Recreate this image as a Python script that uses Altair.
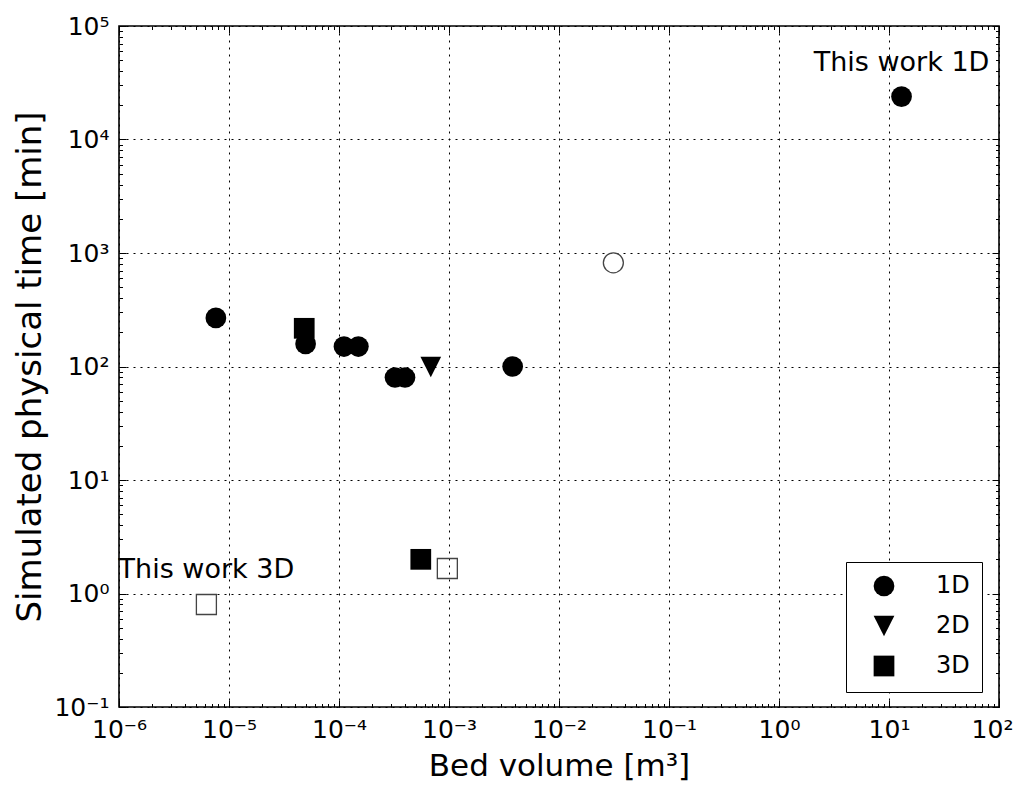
import altair as alt
import pandas as pd

# ---- data ----
# filled markers
filled_dim = ["1D", "1D", "1D", "1D", "1D", "1D", "1D", "1D", "2D", "3D", "3D"]
filled_vol = [7.6e-6, 4.97e-5, 1.11e-4, 1.50e-4, 3.23e-4, 3.98e-4, 3.79e-3, 13.0, 6.83e-4, 4.83e-5, 5.54e-4]
filled_time = [268, 158, 150, 150, 80, 80, 100, 23900, 99, 217, 2.0]

# open markers
open_dim = ["1D", "3D", "3D"]
open_vol = [0.0312, 9.66e-4, 6.23e-6]
open_time = [820, 1.66, 0.8]

# annotations
note_text = ["This work 1D", "This work 3D"]
note_vol = [13.0, 6.23e-6]
note_time = [23900, 0.8]

# axes
x_exponents = [-6, -5, -4, -3, -2, -1, 0, 1, 2]
y_exponents = [-1, 0, 1, 2, 3, 4, 5]
SUP = str.maketrans("-0123456789", "⁻⁰¹²³⁴⁵⁶⁷⁸⁹")
x_tick_labels = ["10" + str(e).translate(SUP) for e in x_exponents]
y_tick_labels = ["10" + str(e).translate(SUP) for e in y_exponents]

legend_order = ["1D", "2D", "3D"]
legend_shapes = ["circle", "M-1,-1L1,-1L0,1Z", "square"]

W, H = 880, 681
FONT = "DejaVu Sans"

df_f = pd.DataFrame({"dim": filled_dim, "vol": filled_vol, "time": filled_time})
df_o = pd.DataFrame({"dim": open_dim, "vol": open_vol, "time": open_time})
df_n = pd.DataFrame({"label": note_text, "vol": note_vol, "time": note_time})

x_major = [10.0 ** e for e in x_exponents]
y_major = [10.0 ** e for e in y_exponents]
x_all = [m * 10.0 ** e for e in x_exponents[:-1] for m in range(1, 10)] + [x_major[-1]]
y_all = [m * 10.0 ** e for e in y_exponents[:-1] for m in range(1, 10)] + [y_major[-1]]


def label_expr(labels, first_exp):
    arr = "[" + ",".join("'" + s + "'" for s in labels) + "]"
    return arr + "[round(log(datum.value)/LN10) - (" + str(first_exp) + ")]"


MAJOR_TEST = "abs(log(datum.value)/LN10 - round(log(datum.value)/LN10)) < 0.0001"
LAST_X_TEST = "datum.value >= " + repr(x_major[-1] * 0.999)

xs = alt.Scale(type="log", domain=[x_major[0], x_major[-1]], nice=False)
ys = alt.Scale(type="log", domain=[y_major[0], y_major[-1]], nice=False)
shape_scale = alt.Scale(domain=legend_order, range=legend_shapes)

main_x = alt.Axis(
    orient="bottom", values=x_major, labelExpr=label_expr(x_tick_labels, x_exponents[0]),
    title="Bed volume [m³]", grid=True, gridColor="black", gridDash=[2, 5], gridWidth=1,
    ticks=False, domain=False, labelFont=FONT, labelFontSize=25, labelColor="black",
    labelPadding=10, labelFlush=False, labelOverlap=False,
    labelOffset={"condition": {"test": LAST_X_TEST, "value": -7}, "value": 0},
    titleFont=FONT, titleFontSize=31, titleFontWeight="normal", titleColor="black",
    titleBaseline="alphabetic", titleY=68,
)
main_y = alt.Axis(
    orient="left", values=y_major, labelExpr=label_expr(y_tick_labels, y_exponents[0]),
    title="Simulated physical time [min]", grid=True, gridColor="black", gridDash=[2, 5],
    gridWidth=1, ticks=False, domain=False, labelFont=FONT, labelFontSize=25,
    labelColor="black", labelPadding=10, labelFlush=False, labelOverlap=False,
    titleFont=FONT, titleFontSize=34, titleFontWeight="normal", titleColor="black",
    titleBaseline="alphabetic", titleX=-79,
)


def tick_axis(orient, offset, values):
    return alt.Axis(
        orient=orient, offset=offset, values=values, labels=False, title=None,
        grid=False, domain=False, ticks=True, tickColor="black", tickWidth=1,
        tickSize={"condition": {"test": MAJOR_TEST, "value": 7}, "value": 3.5},
    )


legend = alt.Legend(
    title=None, orient="none", legendX=727, legendY=536, fillColor="white",
    strokeColor="black", padding=12, rowPadding=12, symbolSize=430,
    symbolFillColor="black", symbolStrokeColor="black", symbolOffset=14,
    labelOffset=40, labelFont=FONT, labelFontSize=24, labelColor="black",
)

filled = alt.Chart(df_f).mark_point(filled=True, size=430, color="black", opacity=1).encode(
    x=alt.X("vol:Q", scale=xs, axis=main_x),
    y=alt.Y("time:Q", scale=ys, axis=main_y),
    shape=alt.Shape("dim:N", scale=shape_scale, legend=legend),
)

opened = alt.Chart(df_o).mark_point(filled=False, size=400, color="#444", strokeWidth=1.3, opacity=1).encode(
    x=alt.X("vol:Q", scale=xs, axis=None),
    y=alt.Y("time:Q", scale=ys, axis=None),
    shape=alt.Shape("dim:N", scale=shape_scale, legend=None),
)

notes = alt.Chart(df_n).mark_text(
    font=FONT, fontSize=27, align="center", baseline="alphabetic", dy=-26, color="black"
).encode(
    x=alt.X("vol:Q", scale=xs, axis=None),
    y=alt.Y("time:Q", scale=ys, axis=None),
    text="label:N",
)

ticks_a = alt.Chart(df_f).mark_point(opacity=0).encode(
    x=alt.X("vol:Q", scale=xs, axis=tick_axis("top", -H, x_all)),
    y=alt.Y("time:Q", scale=ys, axis=tick_axis("right", -W, y_all)),
)
ticks_b = alt.Chart(df_f).mark_point(opacity=0).encode(
    x=alt.X("vol:Q", scale=xs, axis=tick_axis("bottom", -H, x_all)),
    y=alt.Y("time:Q", scale=ys, axis=tick_axis("left", -W, y_all)),
)

chart = (
    alt.layer(filled, opened, notes, ticks_a, ticks_b)
    .resolve_scale(shape="independent")
    .resolve_axis(x="independent", y="independent")
    .properties(
        width=W, height=H,
        autosize=alt.AutoSizeParams(type="none"),
        padding={"left": 111, "top": 18, "right": 14, "bottom": 76},
        background="white",
    )
    .configure_view(stroke="black", strokeWidth=1.6)
)

chart.save("out.html", embed_options={"renderer": "svg", "actions": False})
